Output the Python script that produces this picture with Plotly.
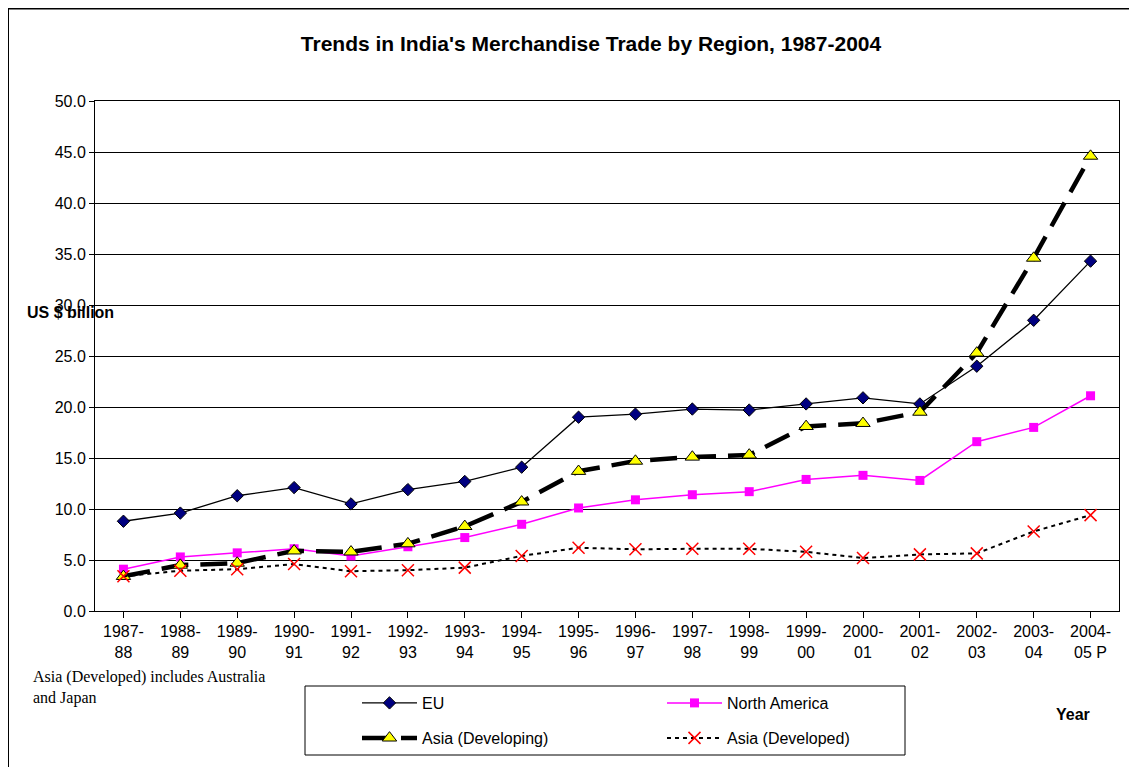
import plotly.graph_objects as go

periods = ["1987-<br>88", "1988-<br>89", "1989-<br>90", "1990-<br>91", "1991-<br>92", "1992-<br>93",
           "1993-<br>94", "1994-<br>95", "1995-<br>96", "1996-<br>97", "1997-<br>98", "1998-<br>99",
           "1999-<br>00", "2000-<br>01", "2001-<br>02", "2002-<br>03", "2003-<br>04", "2004-<br>05 P"]

eu = [8.8, 9.6, 11.3, 12.1, 10.5, 11.9, 12.7, 14.1, 19.0, 19.3, 19.8, 19.7, 20.3, 20.9, 20.3, 24.0, 28.5, 34.3]
north_america = [4.1, 5.3, 5.7, 6.1, 5.4, 6.3, 7.2, 8.5, 10.1, 10.9, 11.4, 11.7, 12.9, 13.3, 12.8, 16.6, 18.0, 21.1]
asia_developing = [3.4, 4.5, 4.7, 5.9, 5.8, 6.6, 8.3, 10.7, 13.7, 14.7, 15.1, 15.3, 18.1, 18.4, 19.5, 25.3, 34.6, 44.6]
asia_developed = [3.4, 3.95, 4.1, 4.6, 3.9, 4.0, 4.25, 5.4, 6.2, 6.05, 6.1, 6.1, 5.8, 5.2, 5.55, 5.65, 7.8, 9.4]

y_ticks = [0, 5, 10, 15, 20, 25, 30, 35, 40, 45, 50]

FONT = "Arial, Liberation Sans, sans-serif"
SERIF = "Liberation Serif, Times New Roman, serif"
OFF = 8  # page body margin
W, H = 1137 - 2 * OFF, 775 - 2 * OFF
# plot area in screen pixels: x 95..1119, y 101..611
PL, PR, PT, PB = 95 - OFF, 1119 - OFF, 101 - OFF, 611 - OFF
ML, MR, MT, MB = PL, W - PR, PT, H - PB
PW = PR - PL
PH = PB - PT

def px_x(x):  # screen px -> paper
    return (x - OFF - PL) / PW

def px_y(y):
    return (PB - (y - OFF)) / PH

x_idx = list(range(len(periods)))

fig = go.Figure()
fig.add_trace(go.Scatter(
    x=x_idx, y=eu, name="EU", mode="lines+markers", legend="legend",
    line=dict(color="black", width=1.3),
    marker=dict(symbol="diamond", size=9.5, color="#000080", line=dict(color="black", width=1)),
))
fig.add_trace(go.Scatter(
    x=x_idx, y=north_america, name="North America", mode="lines+markers", legend="legend",
    line=dict(color="#FF00FF", width=1.5),
    marker=dict(symbol="square", size=9, color="#FF00FF"),
))
fig.add_trace(go.Scatter(
    x=x_idx, y=asia_developing, name="Asia (Developing)", mode="lines+markers", legend="legend2",
    line=dict(color="black", width=4.5, dash="27px,12px"),
    marker=dict(symbol="triangle-up", size=12.5, color="#FFFF00", line=dict(color="black", width=1)),
))
fig.add_trace(go.Scatter(
    x=x_idx, y=asia_developed, name="Asia (Developed)", mode="lines+markers", legend="legend2",
    line=dict(color="black", width=2, dash="4px,4px"),
    marker=dict(symbol="x-thin", size=12, color="#FF0000", line=dict(color="#FF0000", width=1.5)),
))

leg_common = dict(
    orientation="h", xanchor="left", yanchor="middle",
    font=dict(family=FONT, size=16, color="black"),
    bgcolor="rgba(0,0,0,0)", borderwidth=0,
    entrywidth=235, entrywidthmode="pixels", itemwidth=55,
    itemclick=False, itemdoubleclick=False,
)

fig.update_layout(
    width=W, height=H,
    margin=dict(l=ML, r=MR, t=MT, b=MB),
    paper_bgcolor="white", plot_bgcolor="white",
    font=dict(family=FONT, size=16, color="black"),
    title=dict(
        text="<b>Trends in India's Merchandise Trade by Region, 1987-2004</b>",
        x=(591 - OFF) / W, xref="container", xanchor="center",
        y=1 - (44 - OFF) / H, yref="container", yanchor="middle",
        font=dict(family=FONT, size=21, color="black"),
    ),
    xaxis=dict(
        tickmode="array", tickvals=x_idx, ticktext=periods,
        range=[-0.5, len(periods) - 0.5],
        showgrid=False, zeroline=False,
        showline=True, linecolor="black", linewidth=1, mirror=True,
        ticks="outside", ticklen=6, tickcolor="black", tickson="boundaries",
        tickfont=dict(family=FONT, size=16, color="black"),
    ),
    yaxis=dict(
        range=[0, 50], tickmode="array", tickvals=y_ticks,
        ticktext=[f"{v:.1f}" for v in y_ticks],
        showgrid=True, gridcolor="black", gridwidth=1, zeroline=False,
        showline=True, linecolor="black", linewidth=1, mirror=True,
        ticks="outside", ticklen=5, tickcolor="black",
        tickfont=dict(family=FONT, size=16, color="black"),
    ),
    legend=dict(x=px_x(357), y=px_y(703), **leg_common),
    legend2=dict(x=px_x(357), y=px_y(738), **leg_common),
    showlegend=True,
)

# Legend frame
fig.add_shape(type="rect", xref="paper", yref="paper",
              x0=px_x(305), x1=px_x(905), y0=px_y(755), y1=px_y(686),
              line=dict(color="black", width=1), fillcolor="rgba(0,0,0,0)")
# Outer chart border (left and top edges visible)
fig.add_shape(type="line", xref="paper", yref="paper",
              x0=px_x(8), x1=px_x(8), y0=px_y(800), y1=px_y(8.5),
              line=dict(color="black", width=2))
fig.add_shape(type="line", xref="paper", yref="paper",
              x0=px_x(8), x1=px_x(1200), y0=px_y(8.5), y1=px_y(8.5),
              line=dict(color="black", width=2))

fig.add_annotation(text="<b>US $ billion</b>", xref="paper", yref="paper",
                   x=px_x(25), y=px_y(312), xanchor="left", yanchor="middle",
                   showarrow=False, font=dict(family=FONT, size=16, color="black"))
fig.add_annotation(text="<b>Year</b>", xref="paper", yref="paper",
                   x=px_x(1073), y=px_y(714), xanchor="center", yanchor="middle",
                   showarrow=False, font=dict(family=FONT, size=16, color="black"))
fig.add_annotation(text="Asia (Developed) includes Australia", xref="paper", yref="paper",
                   x=px_x(31), y=px_y(677), xanchor="left", yanchor="middle",
                   showarrow=False, font=dict(family=SERIF, size=16, color="black"))
fig.add_annotation(text="and Japan", xref="paper", yref="paper",
                   x=px_x(31), y=px_y(698), xanchor="left", yanchor="middle",
                   showarrow=False, font=dict(family=SERIF, size=16, color="black"))

fig.write_html("out.html")
